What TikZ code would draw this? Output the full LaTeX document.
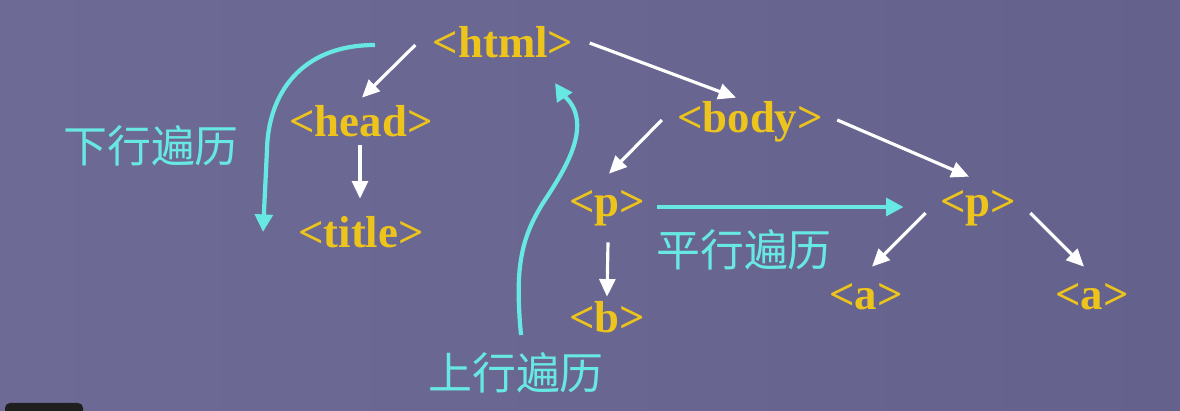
\documentclass[tikz,border=0pt]{standalone}
\usepackage{fontspec}
\setmainfont{Liberation Serif}
\newfontfamily\cjk{Noto Sans CJK SC}
\usetikzlibrary{arrows.meta}
\definecolor{bgLeft}{RGB}{110,106,150}
\definecolor{bgMid}{RGB}{117,113,157}
\definecolor{bgRight}{RGB}{100,98,140}
\definecolor{tagYellow}{RGB}{236,196,28}
\definecolor{travCyan}{RGB}{104,232,226}
\begin{document}
\begin{tikzpicture}%
[x=0.02cm, y=-0.02cm,
tag/.style={anchor=base, inner sep=0pt, text height=0.6cm, text depth=0.2cm,
text=tagYellow, font=\fontsize{25.5}{26}\selectfont\bfseries},
travLabel/.style={inner sep=0pt, text=travCyan, font=\cjk\fontsize{25}{26}\selectfont},
treeArrow/.style={-{Triangle[length=10pt,width=9pt]}, white, line width=1.8pt},
travArrow/.style={-{Triangle[length=10pt,width=10pt]}, travCyan, line width=2.4pt}]
\useasboundingbox (0,0) rectangle (1180,411);
\shade [left color=bgLeft, middle color=bgMid, right color=bgRight] (0,0) rectangle (1180,411);
\fill [black!88, rounded corners=0.1cm] (5,403) rectangle (83,420);
% tags
\node (html) at (503,58) [tag] {<html>};
\node (head) at (361,137) [tag] {<head>};
\node (title) at (361,248) [tag] {<title>};
\node (body) at (750,133) [tag] {<body>};
\node (p1) at (607,217) [tag] {<p>};
\node (p2) at (978,217) [tag] {<p>};
\node (b) at (607,333) [tag] {<b>};
\node (a1) at (866,310) [tag] {<a>};
\node (a2) at (1092,310) [tag] {<a>};
% traversal labels
\node (downTrav) at (151,146) [travLabel] {下行遍历};
\node (upTrav) at (516,373) [travLabel] {上行遍历};
\node (parTrav) at (744,250) [travLabel] {平行遍历};
\coordinate (downS) at (375,45);
\coordinate (downE) at (263,232);
\coordinate (upS) at (521,335);
\coordinate (upE) at (555,83);
\draw [treeArrow] ([shift={(-17,-3)}]html.west) -- ([shift={(1,-9)}]head.north);
\draw [treeArrow] ([shift={(-1,-2)}]head.south) -- ([shift={(-1,-19)}]title.north);
\draw [treeArrow] ([shift={(16,-5)}]html.east) -- ([shift={(-14,-5)}]body.north);
\draw [treeArrow] ([shift={(-15,-3)}]body.west) -- ([shift={(2,-13)}]p1.north);
\draw [treeArrow] ([shift={(14,-3)}]body.east) -- ([shift={(-9,-10)}]p2.north);
\draw [treeArrow] ([shift={(1,15)}]p1.south) -- ([shift={(0,-6)}]b.north);
\draw [treeArrow] ([shift={(-14,6)}]p2.west) -- ([shift={(6,-13)}]a1.north);
\draw [treeArrow] ([shift={(14,6)}]p2.east) -- ([shift={(-8,-13)}]a2.north);
\draw [travArrow] ([shift={(12,0)}]p1.east) -- ([shift={(-36,0)}]p2.west);
\draw [travArrow] (downS) .. controls (300,45) and (268,95) .. (267,150) -- (downE);
\draw [travArrow] (upS) .. controls (515,270) and (520,240) .. (543,203)
.. controls (565,170) and (582,140) .. (576,115)
.. controls (573,102) and (563,95) .. (upE);
\end{tikzpicture}
\end{document}
